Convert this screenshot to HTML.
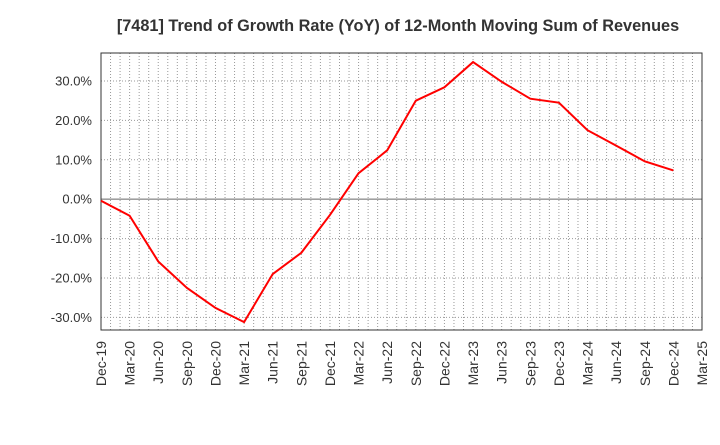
<!DOCTYPE html>
<html><head><meta charset="utf-8"><style>
body{margin:0;background:#fff;font-family:"Liberation Sans",sans-serif}
</style></head><body>
<svg id="chart" width="720" height="440" xmlns="http://www.w3.org/2000/svg">
<text x="398" y="31" text-anchor="middle" font-size="16.3" font-weight="bold" fill="#333">[7481]  Trend of Growth Rate (YoY) of 12-Month Moving Sum of Revenues</text>
<g id="grid"></g><g id="axes"></g><g id="series"></g>
</svg>
<script>
const categories=["Dec-19","Mar-20","Jun-20","Sep-20","Dec-20","Mar-21","Jun-21","Sep-21","Dec-21","Mar-22","Jun-22","Sep-22","Dec-22","Mar-23","Jun-23","Sep-23","Dec-23","Mar-24","Jun-24","Sep-24","Dec-24","Mar-25"];
const values=[-0.4,-4.2,-15.8,-22.5,-27.6,-31.2,-19,-13.6,-4,6.6,12.4,25,28.4,34.8,29.8,25.5,24.5,17.5,13.6,9.6,7.3];
const yTicks=[-30,-20,-10,0,10,20,30];
const L=101,R=702,T=53,B=330,yMin=-33.2,yMax=37.1;
const ns="http://www.w3.org/2000/svg";
const xs=i=>L+(R-L)*i/(categories.length-1);
const ys=v=>B-(v-yMin)/(yMax-yMin)*(B-T);
function mk(tag,attrs,parent){const e=document.createElementNS(ns,tag);for(const k in attrs)e.setAttribute(k,attrs[k]);document.getElementById(parent).appendChild(e);return e;}
const months=(categories.length-1)*3;
for(let m=1;m<months;m++){const x=L+(R-L)*m/months;
const g=mk("line",{x1:x,x2:x,y1:T,y2:B,stroke:"#999","stroke-dasharray":"1,2","stroke-width":1},"grid");

}
yTicks.forEach(v=>{const y=ys(v);
const g=mk("line",{x1:L,x2:R,y1:y,y2:y,stroke:v===0?"#666":"#999","stroke-dasharray":v===0?"":"1,2","stroke-width":1},"grid");


const t=mk("text",{x:L-9,y:y+4.5,"text-anchor":"end","font-size":13,fill:"#333"},"axes");t.textContent=v.toFixed(1)+"%";

});
const fr=mk("rect",{x:L,y:T,width:R-L,height:B-T,fill:"none",stroke:"#333","stroke-width":1},"axes");


categories.forEach((c,i)=>{const x=xs(i);
const t=mk("text",{transform:`translate(${x+5},${B+11}) rotate(-90)`,"text-anchor":"end","font-size":14,fill:"#333"},"axes");t.textContent=c;

});
const p=mk("polyline",{points:values.map((v,i)=>xs(i)+","+ys(v)).join(" "),fill:"none",stroke:"#f00","stroke-width":2},"series");


</script>
</body></html>
